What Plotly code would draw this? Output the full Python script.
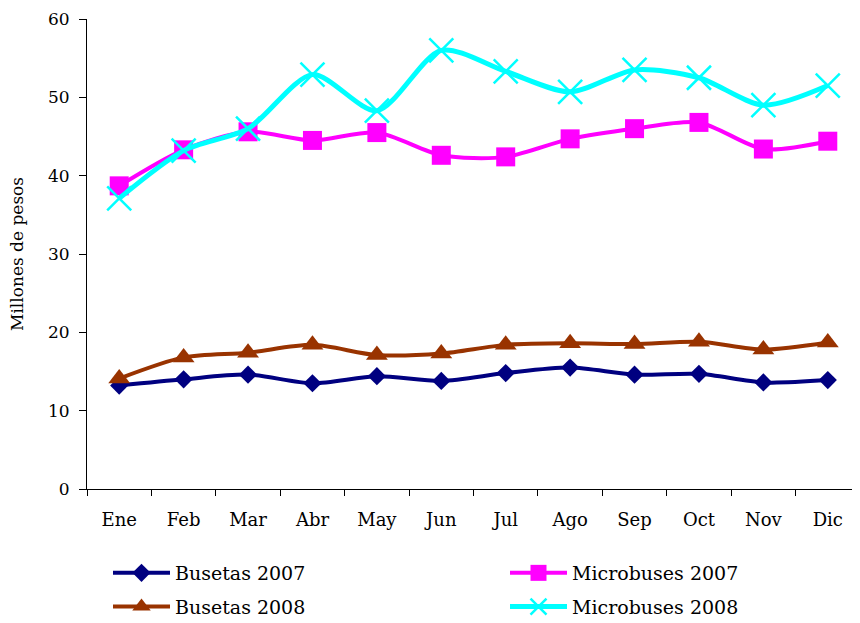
import plotly.graph_objects as go

meses = ["Ene", "Feb", "Mar", "Abr", "May", "Jun", "Jul", "Ago", "Sep", "Oct", "Nov", "Dic"]

busetas_2007 = [13.2, 14.0, 14.6, 13.5, 14.4, 13.8, 14.8, 15.5, 14.6, 14.7, 13.6, 13.9]
busetas_2008 = [14.1, 16.8, 17.4, 18.4, 17.1, 17.3, 18.4, 18.6, 18.5, 18.8, 17.8, 18.7]
microbuses_2007 = [38.7, 43.3, 45.6, 44.5, 45.5, 42.6, 42.4, 44.7, 46.0, 46.8, 43.4, 44.4]
microbuses_2008 = [37.1, 43.2, 46.0, 52.9, 48.3, 56.0, 53.3, 50.7, 53.5, 52.5, 49.0, 51.5]

fig = go.Figure()

# two legends = two columns
fig.add_trace(go.Scatter(x=meses, y=busetas_2007, name="Busetas 2007", mode="lines+markers",
    legend="legend", legendgroup="a",
    line=dict(color="#000080", width=4, shape="spline", smoothing=0.8),
    marker=dict(symbol="diamond", size=14, color="#000080")))
fig.add_trace(go.Scatter(x=meses, y=busetas_2008, name="Busetas 2008", mode="lines+markers",
    legend="legend", legendgroup="b",
    line=dict(color="#993300", width=4, shape="spline", smoothing=0.8),
    marker=dict(symbol="triangle-up", size=19, color="#993300")))
fig.add_trace(go.Scatter(x=meses, y=microbuses_2007, name="Microbuses 2007", mode="lines+markers",
    legend="legend2", legendgroup="c",
    line=dict(color="#FF00FF", width=4, shape="spline", smoothing=0.8),
    marker=dict(symbol="square", size=19, color="#FF00FF")))
fig.add_trace(go.Scatter(x=meses, y=microbuses_2008, name="Microbuses 2008", mode="lines+markers",
    legend="legend2", legendgroup="d",
    line=dict(color="#00FFFF", width=5, shape="spline", smoothing=0.8),
    marker=dict(symbol="x-thin", size=24, color="#00FFFF", line=dict(color="#00FFFF", width=2.5))))

leg_font = dict(family="DejaVu Serif", size=19, color="black")
W, H = 852, 615  # page adds an 8px body margin

fig.update_layout(
    width=W, height=H,
    margin=dict(l=79, r=0, t=11, b=134, autoexpand=False),
    paper_bgcolor="white", plot_bgcolor="white",
    font=dict(family="DejaVu Serif", size=18, color="black"),
    showlegend=True,
    legend=dict(orientation="v", xref="container", yref="container", x=100 / W, y=1 - 546 / H,
                xanchor="left", yanchor="top", tracegroupgap=6, itemwidth=57,
                bgcolor="rgba(0,0,0,0)", font=leg_font),
    legend2=dict(orientation="v", xref="container", yref="container", x=497 / W, y=1 - 546 / H,
                 xanchor="left", yanchor="top", tracegroupgap=6, itemwidth=57,
                 bgcolor="rgba(0,0,0,0)", font=leg_font),
    xaxis=dict(range=[-0.5, 11.5], showline=True, linecolor="black", linewidth=1, ticks="outside",
               tickson="boundaries", ticklen=6, tickcolor="black", showgrid=False,
               ticklabelstandoff=14, automargin=False),
    yaxis=dict(range=[0, 60], dtick=10, showline=True, linecolor="black", linewidth=1,
               ticks="outside", ticklen=7, tickcolor="black", showgrid=False, zeroline=False,
               ticklabelstandoff=6, ticklabeloverflow="allow", automargin=False,
               tickfont=dict(size=17)),
    annotations=[dict(text="Millones de pesos", textangle=-90, xref="paper", yref="paper",
                      x=-(79 - 9) / (W - 79), y=0.5, xanchor="center", yanchor="middle",
                      showarrow=False, font=dict(size=17))],
)

fig.write_html("out.html")
